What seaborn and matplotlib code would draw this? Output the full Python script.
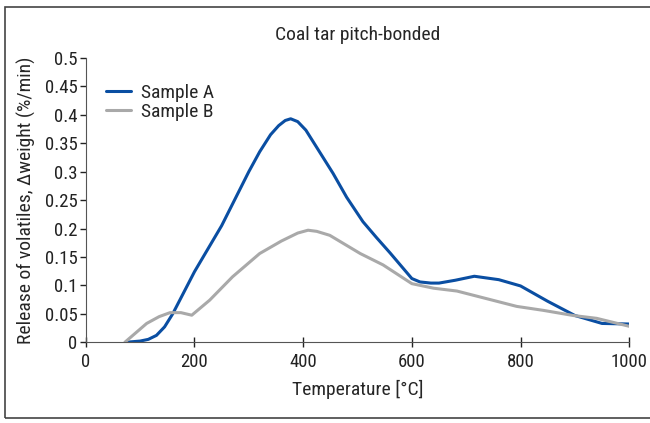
import pandas as pd
import seaborn as sns
import matplotlib.pyplot as plt
from matplotlib.patches import Rectangle

# Sample A (blue)
temp_a = [75, 100, 115, 130, 145, 160, 200, 250, 300, 320, 340, 355, 367,
          377, 390, 405, 430, 455, 480, 510, 535, 560, 600, 615, 635, 650,
          680, 715, 760, 800, 850, 900, 950, 1000]
vol_a = [0, 0.002, 0.005, 0.012, 0.027, 0.05, 0.124, 0.205, 0.3, 0.335,
         0.365, 0.381, 0.39, 0.393, 0.388, 0.373, 0.335, 0.297, 0.255, 0.212,
         0.184, 0.157, 0.112, 0.106, 0.104, 0.104, 0.109, 0.116, 0.11, 0.099,
         0.072, 0.047, 0.033, 0.032]

# Sample B (grey)
temp_b = [72, 112, 135, 155, 175, 195, 228, 270, 320, 360, 390, 409, 425,
          449, 505, 547, 600, 640, 683, 740, 793, 842, 897, 940, 1000]
vol_b = [0, 0.033, 0.045, 0.052, 0.052, 0.0475, 0.074, 0.115, 0.156, 0.178,
         0.192, 0.197, 0.195, 0.188, 0.156, 0.136, 0.103, 0.095, 0.09, 0.076,
         0.063, 0.056, 0.047, 0.042, 0.028]

df = pd.concat([
    pd.DataFrame({'T': temp_a, 'v': vol_a, 'sample': 'Sample A'}),
    pd.DataFrame({'T': temp_b, 'v': vol_b, 'sample': 'Sample B'}),
])

sns.set_style("ticks")
plt.rcParams['font.family'] = ['Roboto Condensed', 'Roboto', 'DejaVu Sans']

fig = plt.figure(figsize=(6.5, 4.23), dpi=100)
ax = fig.add_axes([0.132, 0.191, 0.836, 0.672])

sns.lineplot(data=df, x='T', y='v', hue='sample', sort=False,
             palette={'Sample A': '#0a4ea2', 'Sample B': '#a9a9a9'},
             linewidth=2.2, ax=ax)

ax.set_xlim(0, 1000)
ax.set_ylim(0, 0.5)
ax.set_xticks(range(0, 1001, 200))
ax.set_yticks([i * 0.05 for i in range(11)])
ax.set_yticklabels(['0', '0.05', '0.1', '0.15', '0.2', '0.25', '0.3', '0.35',
                    '0.4', '0.45', '0.5'])
ax.tick_params(axis='both', labelsize=13.5, colors='#222222', width=1)
ax.tick_params(axis='x', direction='inout', length=7, pad=4)
ax.tick_params(axis='y', direction='out', length=4, pad=2)
for s in ['left', 'bottom']:
    ax.spines[s].set_color('#555555')
sns.despine(ax=ax)

ax.set_xlabel('Temperature [°C]', fontsize=14, labelpad=7)
ax.set_ylabel('Release of volatiles, ∆weight (%/min)', fontsize=14, labelpad=6)
ax.set_title('Coal tar pitch-bonded', fontsize=14, pad=13)

leg = ax.legend(title=None, frameon=False, fontsize=14, loc='upper left',
                bbox_to_anchor=(0.005, 0.97), handlelength=1.3,
                handletextpad=0.5, labelspacing=0.05)

# border around figure (right side cut off)
fig.patches.append(Rectangle((0.008, 0.012), 1.2, 0.971, transform=fig.transFigure,
                             fill=False, edgecolor='#444444', linewidth=1.2))

fig.savefig('out.png', dpi=100)
